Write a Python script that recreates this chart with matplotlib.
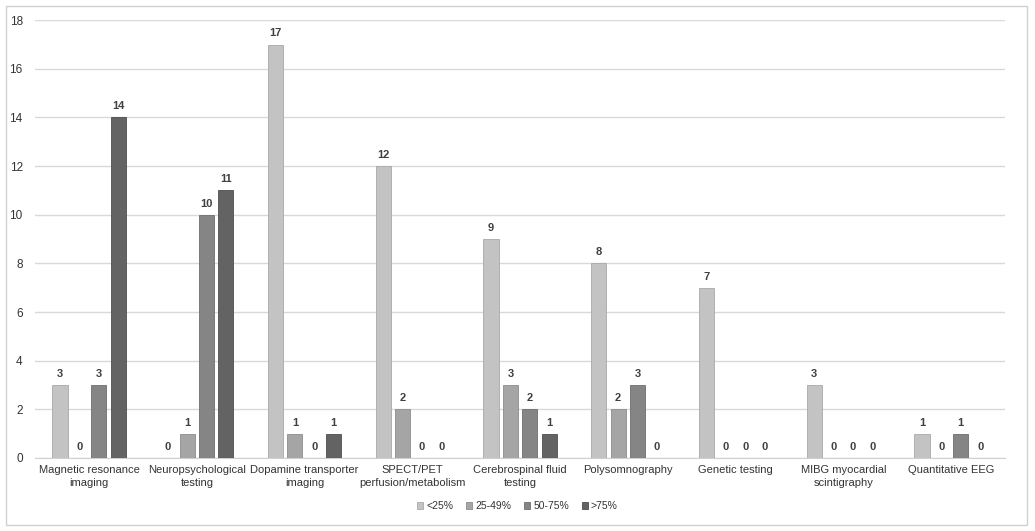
import matplotlib
matplotlib.use("Agg")
import matplotlib.pyplot as plt
import numpy as np
from matplotlib.patches import Rectangle

plt.rcParams['font.family'] = ['Liberation Sans', 'DejaVu Sans']

categories = ["Magnetic resonance\nimaging", "Neuropsychological\ntesting", "Dopamine transporter\nimaging",
              "SPECT/PET\nperfusion/metabolism", "Cerebrospinal fluid\ntesting", "Polysomnography",
              "Genetic testing", "MIBG myocardial\nscintigraphy", "Quantitative EEG"]
series_names = ["<25%", "25-49%", "50-75%", ">75%"]
lt25 = [3, 0, 17, 12, 9, 8, 7, 3, 1]
p25_49 = [0, 1, 1, 2, 3, 2, 0, 0, 0]
p50_75 = [3, 10, 0, 0, 2, 3, 0, 0, 1]
gt75 = [14, 11, 1, 0, 1, 0, 0, 0, 0]
series = [lt25, p25_49, p50_75, gt75]
colors = ["#c3c3c3", "#a5a5a5", "#858585", "#636363"]
edges = ["#a8a8a8", "#8c8c8c", "#6e6e6e", "#4e4e4e"]

fig = plt.figure(figsize=(10.35, 5.31), dpi=100)
fig.patches.append(Rectangle((0.006, 0.012), 0.986, 0.976, transform=fig.transFigure,
                             fill=False, edgecolor="#d0d0d0", linewidth=1.0))
ax = fig.add_axes([0.034, 0.1375, 0.937, 0.8245])

x = np.arange(len(categories))
w = 0.14
step = 0.18
offsets = (np.arange(4) - 1.5) * step
for i, (vals, c, ec, name) in enumerate(zip(series, colors, edges, series_names)):
    ax.bar(x + offsets[i], vals, width=w, color=c, edgecolor=ec, linewidth=0.6, label=name, zorder=3)
    for xi, v in zip(x + offsets[i], vals):
        ax.text(xi, v + 0.25, str(v), ha="center", va="bottom", fontsize=8,
                fontweight="bold", color="#404040")

ax.set_xlim(-0.5, len(categories) - 0.5)
ax.set_ylim(0, 18)
ax.set_yticks(range(0, 19, 2))
ax.yaxis.grid(True, color="#d9d9d9", linewidth=1.0, zorder=0)
ax.set_axisbelow(True)
for s in ["top", "right", "left"]:
    ax.spines[s].set_visible(False)
ax.spines["bottom"].set_color("#d0d0d0")
ax.tick_params(axis="both", length=0, labelsize=8.5, colors="#333333")
ax.tick_params(axis="y", pad=9)
ax.tick_params(axis="x", pad=5)
ax.set_xticks(x)
ax.set_xticklabels(categories, fontsize=8, linespacing=1.35)

fig.legend(loc="center", bbox_to_anchor=(0.5, 0.047), ncol=4, frameon=False, fontsize=7.5,
           handlelength=0.6, handleheight=0.6, handletextpad=0.3, columnspacing=1.2, labelcolor="#333333")

fig.savefig("out.png", dpi=100, facecolor="white")
